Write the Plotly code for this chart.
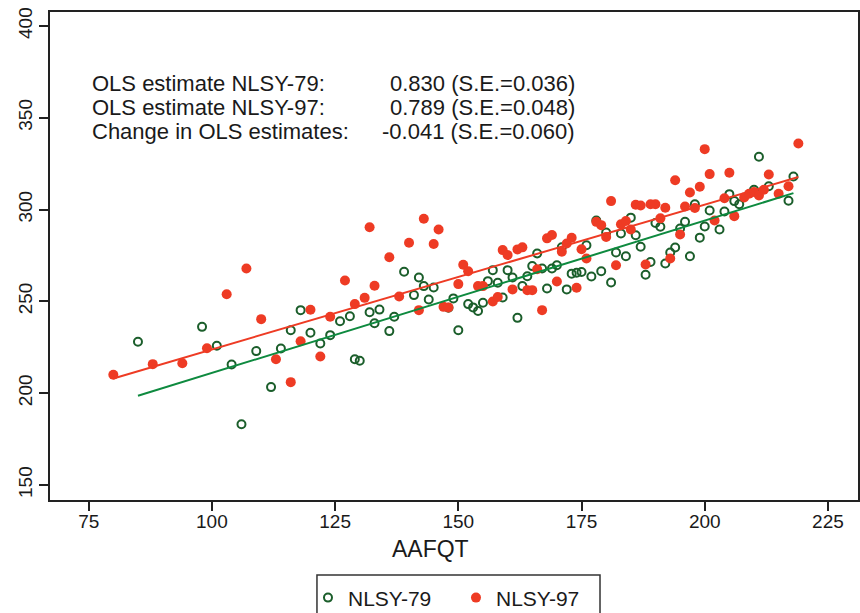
import plotly.graph_objects as go

# ---- data ----
aafqt_79 = [85, 98, 101, 104, 106, 109, 112, 114, 116, 118, 120, 122, 124, 126, 128, 129, 130,
            132, 133, 134, 136, 137, 139, 141, 142, 143, 144, 145, 148, 149, 150, 152, 153, 154,
            155, 156, 157, 158, 159, 160, 161, 162, 163, 164, 165, 166, 167, 168, 169, 170, 171,
            172, 173, 174, 175, 176, 177, 178, 179, 180, 181, 182, 183, 184, 185, 186, 187, 188,
            189, 190, 191, 192, 193, 194, 195, 196, 197, 198, 199, 200, 201, 203, 204, 205, 206,
            207, 210, 211, 213, 217, 218]
score_79 = [228.0, 236.1, 225.8, 215.6, 183.1, 222.9, 203.3, 224.3, 234.3, 245.2, 232.9, 227.0,
            231.6, 239.2, 241.9, 218.5, 217.6, 244.1, 238.1, 245.5, 233.8, 241.6, 266.1, 253.4,
            263.0, 258.3, 251.0, 257.5, 246.5, 251.6, 234.3, 248.5, 246.7, 244.7, 249.2, 261.0,
            267.0, 260.1, 252.1, 267.0, 263.0, 241.0, 258.3, 263.7, 269.2, 276.1, 267.9, 257.0,
            267.9, 269.7, 279.5, 256.5, 265.1, 265.6, 266.0, 280.6, 263.5, 294.0, 266.4, 287.5,
            260.3, 276.6, 287.0, 274.6, 295.6, 286.0, 279.7, 264.5, 271.4, 292.7, 290.6, 270.6,
            276.6, 279.3, 289.7, 293.3, 274.6, 302.9, 284.7, 290.8, 299.5, 289.1, 298.9, 308.4,
            304.6, 302.9, 310.8, 328.8, 312.7, 304.8, 318.0]

aafqt_97 = [80, 88, 94, 99, 103, 107, 110, 113, 116, 118, 120, 122, 124, 127, 129, 131, 132, 133,
            136, 138, 140, 142, 143, 145, 146, 147, 148, 150, 151, 152, 154, 155, 157, 158, 159,
            160, 161, 162, 163, 164, 165, 166, 167, 168, 169, 170, 171, 172, 173, 174, 175, 176,
            178, 179, 180, 181, 182, 183, 184, 185, 186, 187, 188, 189, 190, 191, 192, 193, 194,
            195, 196, 197, 198, 199, 200, 201, 202, 204, 205, 206, 208, 209, 210, 211, 212, 213,
            215, 217, 219]
score_97 = [210.0, 215.8, 216.3, 224.5, 253.9, 267.9, 240.3, 218.5, 206.0, 228.3, 245.4, 220.0,
            241.6, 261.4, 248.5, 251.9, 290.4, 258.5, 274.0, 252.6, 281.9, 245.2, 295.0, 281.2,
            289.1, 247.0, 246.7, 259.4, 269.9, 266.4, 258.3, 258.3, 249.9, 252.4, 277.9, 275.2,
            256.5, 278.3, 279.4, 256.1, 256.1, 267.5, 245.2, 284.3, 286.1, 260.8, 277.0, 281.5,
            284.6, 257.4, 278.4, 273.3, 293.3, 291.5, 285.1, 304.6, 269.7, 292.0, 293.8, 289.1,
            302.6, 302.2, 270.1, 302.9, 302.9, 295.2, 301.0, 273.3, 316.0, 286.4, 301.7, 309.3,
            300.8, 312.4, 332.9, 319.3, 294.0, 306.2, 320.0, 296.4, 306.6, 308.6, 309.6, 307.7,
            310.8, 319.1, 308.6, 312.7, 336.0]

fit_slope_79, fit_intercept_79 = 0.830, 128.0
fit_slope_97, fit_intercept_97 = 0.789, 144.9

x_ticks = [75, 100, 125, 150, 175, 200, 225]
y_ticks = [150, 200, 250, 300, 350, 400]
x_title = "AAFQT"

stats_labels = ["OLS estimate NLSY-79:", "OLS estimate NLSY-97:", "Change in OLS estimates:"]
stats_values = ["0.830 (S.E.=0.036)", "0.789 (S.E.=0.048)", "-0.041 (S.E.=0.060)"]

RED = "#EE3B24"
GREEN_PT = "#1B5E2B"
GREEN_LN = "#0E8A3F"
TXT = "#1a1a1a"
FONT = "Liberation Sans, Arial, Helvetica, sans-serif"

fig = go.Figure()
fig.add_trace(go.Scatter(x=aafqt_79, y=score_79, mode="markers", name="NLSY-79",
                         marker=dict(symbol="circle-open", size=8, color=GREEN_PT,
                                     line=dict(width=2, color=GREEN_PT))))
fig.add_trace(go.Scatter(x=aafqt_97, y=score_97, mode="markers", name="NLSY-97",
                         marker=dict(symbol="circle", size=10, color=RED)))

x79 = [min(aafqt_79), max(aafqt_79)]
x97 = [min(aafqt_97), max(aafqt_97)]
fig.add_trace(go.Scatter(x=x79, y=[fit_intercept_79 + fit_slope_79 * v for v in x79],
                         mode="lines", line=dict(color=GREEN_LN, width=2), showlegend=False,
                         hoverinfo="skip"))
fig.add_trace(go.Scatter(x=x97, y=[fit_intercept_97 + fit_slope_97 * v for v in x97],
                         mode="lines", line=dict(color=RED, width=2), showlegend=False,
                         hoverinfo="skip"))

line_y = [0.8545, 0.8053, 0.7561]
for lab, val, yy in zip(stats_labels, stats_values, line_y):
    fig.add_annotation(xref="paper", yref="paper", x=0.0495, y=yy, text=lab, showarrow=False,
                       xanchor="left", yanchor="middle",
                       font=dict(family=FONT, size=22, color=TXT))
    fig.add_annotation(xref="paper", yref="paper", x=0.6522, y=yy, text=val, showarrow=False,
                       xanchor="right", yanchor="middle",
                       font=dict(family=FONT, size=22, color=TXT))

# x-axis title (centred on the figure, as in the reference)
fig.add_annotation(xref="paper", yref="paper", x=0.4715, y=-0.1004, text=x_title,
                   showarrow=False, xanchor="center", yanchor="middle",
                   font=dict(family=FONT, size=23, color=TXT))

# legend frame
fig.add_shape(type="rect", xref="paper", yref="paper", x0=0.3304, x1=0.6807,
              y0=-0.1537, y1=-0.30, line=dict(color="#333", width=1.5), fillcolor="white",
              layer="below")

axis_common = dict(showline=True, linecolor="#222", linewidth=1.5, mirror=True,
                   ticks="outside", ticklen=9, tickwidth=1.5, tickcolor="#222",
                   showgrid=False, zeroline=False, automargin=False,
                   tickfont=dict(family=FONT, size=19, color=TXT))

fig.update_layout(
    width=860, height=613,
    margin=dict(l=50, r=2, t=12, b=113),
    paper_bgcolor="white", plot_bgcolor="white",
    font=dict(family=FONT, color=TXT),
    xaxis=dict(range=[67.15, 231.1], tickvals=x_ticks, ticklabelstandoff=-6, **axis_common),
    yaxis=dict(range=[141.8, 407.6], tickvals=y_ticks, tickangle=-90, **axis_common),
    legend=dict(orientation="h", x=0.3193, xanchor="left", yref="container",
                y=0.058, yanchor="top", entrywidth=103,
                borderwidth=0, bgcolor="rgba(0,0,0,0)",
                font=dict(family=FONT, size=21, color=TXT)),
    showlegend=True,
)

fig.write_html("out.html")
